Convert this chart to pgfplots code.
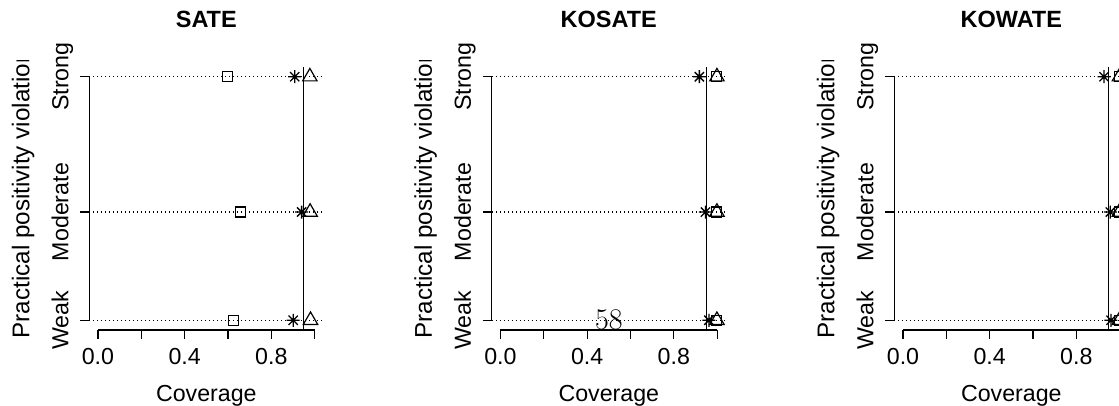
\documentclass[border=0pt]{standalone}
\usepackage{pgfplots}
\pgfplotsset{compat=1.18}
\usepackage{fontspec}
\setsansfont{Liberation Sans}

\pgfdeclareplotmark{rast}{%
  \pgfpathmoveto{\pgfpoint{-\pgfplotmarksize}{0pt}}\pgfpathlineto{\pgfpoint{\pgfplotmarksize}{0pt}}%
  \pgfpathmoveto{\pgfpoint{0pt}{-\pgfplotmarksize}}\pgfpathlineto{\pgfpoint{0pt}{\pgfplotmarksize}}%
  \pgfpathmoveto{\pgfpoint{-0.7071\pgfplotmarksize}{-0.7071\pgfplotmarksize}}\pgfpathlineto{\pgfpoint{0.7071\pgfplotmarksize}{0.7071\pgfplotmarksize}}%
  \pgfpathmoveto{\pgfpoint{-0.7071\pgfplotmarksize}{0.7071\pgfplotmarksize}}\pgfpathlineto{\pgfpoint{0.7071\pgfplotmarksize}{-0.7071\pgfplotmarksize}}%
  \pgfusepathqstroke}

\newcommand{\basefont}{\sffamily\fontsize{23.2}{27}\selectfont}

\pgfplotsset{
  rpanel/.style={
    scale only axis, width=234pt, height=263pt,
    xmin=-0.04, xmax=1.04, ymin=-0.072, ymax=1.872,
    clip=false,
    axis x line*=bottom, axis y line*=left,
    axis line style={draw=none},
    tick align=outside, major tick length=9pt,
    every tick/.style={black, line width=1.2pt},
    xtick={0,0.2,0.4,0.6,0.8,1},
    xticklabels={0.0,{},0.4,{},0.8,{}},
    ytick={0,0.8,1.8},
    yticklabels={Weak,Moderate,Strong},
    /pgf/number format/assume math mode=true,
    tick label style={font=\basefont},
    xticklabel style={anchor=base, inner sep=0pt},
    xticklabel shift=26pt,
    yticklabel style={rotate=90, anchor=base, inner sep=0pt},
    yticklabel shift=12pt,
    xlabel={Coverage},
    xlabel style={font=\basefont, at={(axis description cs:0.5,0)}, anchor=base, inner sep=0pt, yshift=-71.5pt},
    title style={font=\sffamily\bfseries\fontsize{23.5}{27}\selectfont, at={(axis description cs:0.5,1)}, anchor=base, inner sep=0pt, yshift=33.7pt},
  },
  dotl/.style={black, line width=1.1pt, dash pattern=on 1.1pt off 2.9pt, forget plot},
  sq/.style={only marks, mark=square, mark size=5pt, mark options={line width=1.2pt, black}},
  as/.style={only marks, mark=rast, mark size=6.5pt, mark options={line width=1.3pt, black}},
  tr/.style={only marks, mark=triangle, mark size=8.3pt, mark options={line width=1.2pt, black}},
}

\newcommand{\panelframe}{%
  \addplot[dotl] coordinates {(-0.04,1.8) (1.04,1.8)};
  \addplot[dotl] coordinates {(-0.04,0.8) (1.04,0.8)};
  \addplot[dotl] coordinates {(-0.04,0) (1.04,0)};
}
\newcommand{\paneltail}{%
  \addplot[black, line width=1.2pt, forget plot] coordinates {(0.95,-0.072) (0.95,1.872)};
  \addplot[black, line width=1.2pt, forget plot] coordinates {(0,-0.072) (1,-0.072)};
  \addplot[black, line width=1.2pt, forget plot] coordinates {(-0.04,0) (-0.04,1.8)};
}

\begin{document}
\begin{tikzpicture}
\path[use as bounding box] (0,0) rectangle (1119pt,406pt);
\clip (0,0) rectangle (1119pt,406pt);

% ---------- SATE ----------
\begin{axis}[rpanel, at={(89.3pt,76pt)}, anchor=south west, title={SATE}]
\panelframe
\addplot[sq] coordinates {(0.597,1.8) (0.659,0.8) (0.625,0)};
\addplot[as] coordinates {(0.908,1.8) (0.940,0.8) (0.901,0)};
\addplot[tr] coordinates {(0.978,1.8) (0.979,0.8) (0.981,0)};
\paneltail
\end{axis}

% ---------- KOSATE ----------
\begin{axis}[rpanel, at={(491.8pt,76pt)}, anchor=south west, title={KOSATE}]
\panelframe
\addplot[sq] coordinates {(0.998,1.8) (0.996,0.8) (0.998,0)};
\addplot[as] coordinates {(0.918,1.8) (0.946,0.8) (0.962,0)};
\addplot[tr] coordinates {(0.999,1.8) (0.999,0.8) (0.999,0)};
\paneltail
\node[font=\rmfamily\fontsize{30}{30}\selectfont, anchor=base, inner sep=0pt] at (axis cs:0.5,-0.068) {58};
\end{axis}

% ---------- KOWATE ----------
\begin{axis}[rpanel, at={(894.3pt,76pt)}, anchor=south west, title={KOWATE}]
\panelframe
\addplot[sq] coordinates {(0.999,1.8) (0.999,0.8) (0.999,0)};
\addplot[as] coordinates {(0.928,1.8) (0.957,0.8) (0.960,0)};
\addplot[tr] coordinates {(0.999,1.8) (0.999,0.8) (0.999,0)};
\paneltail
\end{axis}

% ---------- clipped y labels ----------
\begin{scope}
\clip (0,0) rectangle (1119pt,345.8pt);
\foreach \xx in {29.3,431.8,834.3}{
  \node[rotate=90, anchor=base west, inner sep=0pt, font=\sffamily\fontsize{24.2}{28}\selectfont] at (\xx pt,67.5pt) {Practical positivity violation};
}
\end{scope}
\end{tikzpicture}
\end{document}
